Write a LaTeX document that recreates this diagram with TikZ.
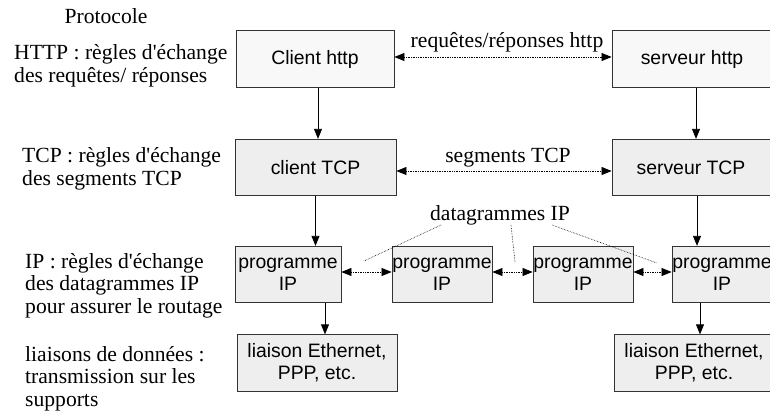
\documentclass[tikz,border=0pt]{standalone}
\usepackage{fontspec}
\setmainfont{Liberation Serif}
\newfontfamily\lblfont{Liberation Serif}
\newfontfamily\boxfont{Liberation Sans}
\usetikzlibrary{arrows.meta}
\definecolor{lightfill}{HTML}{F8F8F8}
\definecolor{midfill}{HTML}{EEEEEE}
\definecolor{edge}{HTML}{333333}
\tikzset{
  box/.style={draw=edge, line width=0.8pt, inner sep=0pt, align=center,
    font=\boxfont\fontsize{19.4}{22}\selectfont, minimum height=56.5pt},
  lbl/.style={inner sep=0pt, align=left, anchor=base west,
    font=\lblfont\fontsize{21.6}{22.5}\selectfont},
  arr/.style={line width=0.8pt, -{Triangle[length=10pt,width=8pt]}},
  dotarr/.style={line width=0.7pt, densely dotted,
    {Triangle[length=10pt,width=8pt]}-{Triangle[length=10pt,width=8pt]}},
  leader/.style={line width=0.6pt, densely dotted}
}
\begin{document}
\begin{tikzpicture}[x=1pt,y=-1pt]
\useasboundingbox (0,0) rectangle (770,412);
\clip (0,0) rectangle (770,412);

% left labels (base = last line)
\node[lbl, anchor=base] (proto) at (106,24) {Protocole};
\node[lbl] (thttp) at (14,82) {HTTP : règles d'échange\\des requêtes/ réponses};
\node[lbl] (ttcp) at (22,185) {TCP : règles d'échange\\des segments TCP};
\node[lbl] (tip) at (25,313) {IP : règles d'échange\\des datagrammes IP\\pour assurer le routage};
\node[lbl] (tld) at (25,406) {liaisons de données :\\transmission sur les\\supports};

% boxes
\node[box, fill=lightfill, minimum width=158pt] (ch) at (315,59) {Client http};
\node[box, fill=lightfill, minimum width=160pt] (sh) at (692,59) {serveur http};
\node[box, fill=midfill, minimum width=161pt] (ct) at (315.5,167.5) {client TCP};
\node[box, fill=midfill, minimum width=158pt] (st) at (691,167.5) {serveur TCP};
\node[box, fill=midfill, minimum width=106pt] (p1) at (288,274.5) {programme\\IP};
\node[box, fill=midfill, minimum width=100pt] (p2) at (442,274.5) {programme\\IP};
\node[box, fill=midfill, minimum width=100pt] (p3) at (583,274.5) {programme\\IP};
\node[box, fill=midfill, minimum width=100pt] (p4) at (722,274.5) {programme\\IP};
\node[box, fill=midfill, minimum width=160pt] (l1) at (317,363) {liaison Ethernet,\\PPP, etc.};
\node[box, fill=midfill, minimum width=160pt] (l2) at (694,363) {liaison Ethernet,\\PPP, etc.};

% vertical arrows
\draw[arr] ([xshift=3pt]ch.south) -- ([xshift=3pt]ch.south |- ct.north);
\draw[arr] (ct.south) -- (ct.south |- p1.north);
\draw[arr] ([xshift=4pt]sh.south) -- ([xshift=4pt]sh.south |- st.north);
\draw[arr] ([xshift=6pt]st.south) -- ([xshift=6pt]st.south |- p4.north);
\draw[arr] ([xshift=37pt]p1.south) -- ([xshift=37pt]p1.south |- l1.north);
\draw[arr] ([xshift=-22pt]p4.south) -- ([xshift=-22pt]p4.south |- l2.north);

% horizontal dotted arrows
\draw[dotarr] ([yshift=2pt]ch.east) -- ([yshift=2pt]sh.west);
\draw[dotarr] ([yshift=-3.5pt]ct.east) -- ([yshift=-3.5pt]st.west);
\draw[dotarr] ([yshift=2.5pt]p1.east) -- ([yshift=2.5pt]p2.west);
\draw[dotarr] ([yshift=2.5pt]p2.east) -- ([yshift=2.5pt]p3.west);
\draw[dotarr] ([yshift=2.5pt]p3.east) -- ([yshift=2.5pt]p4.west);

% arrow labels
\node[lbl, anchor=base] (lhttp) at (507,48) {requêtes/réponses http};
\node[lbl, anchor=base] (ltcp) at (508,162) {segments TCP};
\node[lbl, anchor=base] (dg) at (500,220) {datagrammes IP};

% leaders
\coordinate (a1) at (441,225);
\coordinate (a2) at (511,225);
\coordinate (a3) at (552,225);
\coordinate (m1) at (364,261);
\coordinate (m2) at (515,262);
\coordinate (m3) at (657,263);
\draw[leader] (a1) -- (m1);
\draw[leader] (a2) -- (m2);
\draw[leader] (a3) -- (m3);
\end{tikzpicture}
\end{document}
